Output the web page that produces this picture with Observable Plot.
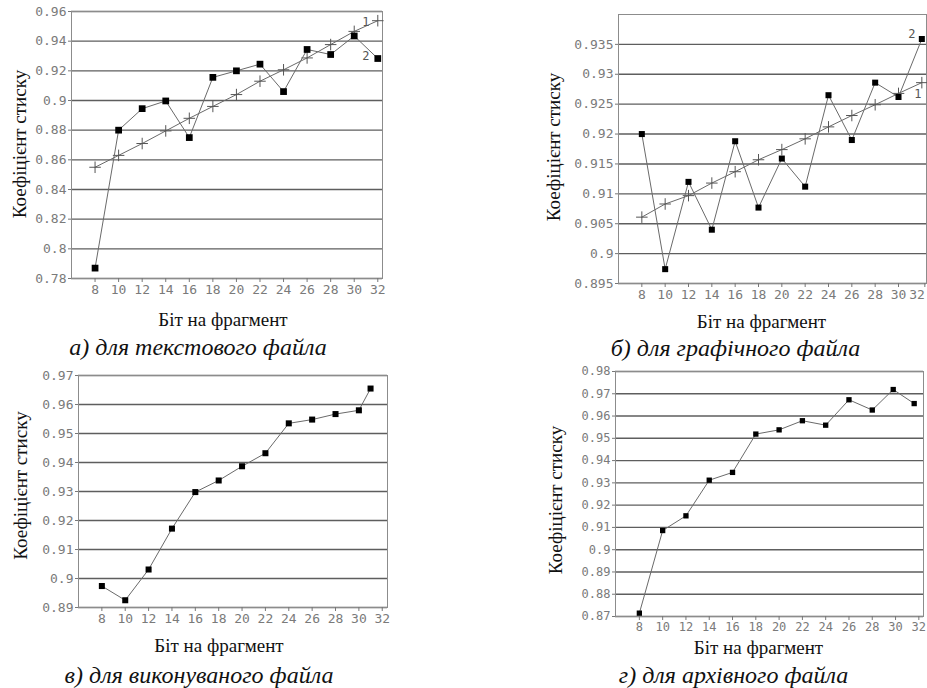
<!DOCTYPE html>
<html>
<head>
<meta charset="utf-8">
<script src="https://cdn.jsdelivr.net/npm/d3@7"></script>
<script src="https://cdn.jsdelivr.net/npm/@observablehq/plot@0.6"></script>
<style>
  body { margin: 0; background: #fff; }
  #root { position: relative; width: 927px; height: 688px; overflow: hidden; background: #fff; }
  #root svg { position: absolute; overflow: visible; background: transparent; }
</style>
</head>
<body>
<div id="root"></div>
<script>
// ---------- data ----------
const bits = [8, 10, 12, 14, 16, 18, 20, 22, 24, 26, 28, 30, 32];
const bitsC = [8, 10, 12, 14, 16, 18, 20, 22, 24, 26, 28, 30, 31];
const bitsD = [8, 10, 12, 14, 16, 18, 20, 22, 24, 26, 28, 29.8, 31.6];

// а) текстовий файл: 1 – апроксимація, 2 – дані
const textApprox = [0.855, 0.863, 0.871, 0.8795, 0.888, 0.896, 0.904, 0.913, 0.9207, 0.9287, 0.9377, 0.9466, 0.9538];
const textData   = [0.787, 0.880, 0.8945, 0.8997, 0.875, 0.9156, 0.920, 0.9245, 0.906, 0.9344, 0.931, 0.9435, 0.9283];
// б) графічний файл
const imgApprox = [0.9061, 0.9083, 0.9097, 0.9118, 0.9137, 0.9157, 0.9174, 0.9192, 0.9212, 0.9231, 0.9249, 0.9268, 0.9286];
const imgData   = [0.920, 0.8974, 0.912, 0.904, 0.9188, 0.9077, 0.9159, 0.9112, 0.9265, 0.919, 0.9286, 0.9262, 0.9359];
// в) виконуваний файл
const exeData = [0.8974, 0.8925, 0.9031, 0.9172, 0.9298, 0.9338, 0.9387, 0.9432, 0.9535, 0.9548, 0.9567, 0.958, 0.9655];
// г) архівний файл
const arcData = [0.8715, 0.9086, 0.9152, 0.9312, 0.9347, 0.9519, 0.9538, 0.9579, 0.9559, 0.9673, 0.9627, 0.9719, 0.9656];

// tick labels
const xTicks = [8, 10, 12, 14, 16, 18, 20, 22, 24, 26, 28, 30, 32];
const yTicksA = [0.78, 0.8, 0.82, 0.84, 0.86, 0.88, 0.9, 0.92, 0.94, 0.96];
const yTicksB = [0.895, 0.9, 0.905, 0.91, 0.915, 0.92, 0.925, 0.93, 0.935];
const yTicksC = [0.89, 0.9, 0.91, 0.92, 0.93, 0.94, 0.95, 0.96, 0.97];
const yTicksD = [0.87, 0.88, 0.89, 0.9, 0.91, 0.92, 0.93, 0.94, 0.95, 0.96, 0.97, 0.98];

const xTitle = "Біт на фрагмент";
const yTitle = "Коефіцієнт стиску";
const captions = ["а) для текстового файла", "б) для графічного файла", "в) для виконуваного файла", "г) для архівного файла"];

// ---------- drawing ----------
const MONO = "'DejaVu Sans Mono', 'Liberation Mono', monospace";
const SERIF = "'Liberation Serif', 'Times New Roman', 'DejaVu Serif', serif";
const fmt = d => String(+d.toFixed(3));
const zip = (xs, ys) => xs.map((x, i) => ({x, y: ys[i]}));

function panel(o) {
  const axisStyle = {tickSize: 4, tickPadding: 2, label: null,
    fontFamily: MONO, fontSize: o.tickFont, fill: "#7a7a7a", stroke: "#777"};
  const marks = [
    Plot.gridY(o.yTicks, {stroke: "#5e5e5e", strokeOpacity: 1, strokeWidth: 1.4}),
    Plot.frame({stroke: "#8c8c8c"}),
    Plot.axisY(o.yTicks, {...axisStyle, tickSize: 3, tickFormat: fmt})
  ];
  if (o.lastShift) {
    marks.push(Plot.axisX(xTicks.slice(0, -1), axisStyle));
    marks.push(Plot.axisX(xTicks.slice(-1), {...axisStyle, textAnchor: "end", dx: 3}));
  } else {
    marks.push(Plot.axisX(xTicks, axisStyle));
  }
  if (o.approx) {
    const a = zip(o.xs, o.approx);
    marks.push(Plot.line(a, {x: "x", y: "y", stroke: "#6a6a6a", strokeWidth: 1}));
    marks.push(Plot.dot(a, {x: "x", y: "y", symbol: "plus", r: 3.8, stroke: "#555", strokeWidth: 1}));
  }
  const d = zip(o.xs, o.data);
  marks.push(Plot.line(d, {x: "x", y: "y", stroke: "#6a6a6a", strokeWidth: 1}));
  marks.push(Plot.dot(d, {x: "x", y: "y", symbol: "square", r: o.sq, fill: "#000", stroke: "none"}));
  if (o.approx) {
    const n = o.xs.length - 1;
    marks.push(Plot.text([{x: o.xs[n], y: o.approx[n]}], {x: "x", y: "y", text: () => "1",
      dx: o.l1[0], dy: o.l1[1], fontFamily: MONO, fontSize: 12, fill: "#555"}));
    marks.push(Plot.text([{x: o.xs[n], y: o.data[n]}], {x: "x", y: "y", text: () => "2",
      dx: o.l2[0], dy: o.l2[1], fontFamily: MONO, fontSize: 12, fill: "#555"}));
  }
  marks.push(Plot.text([xTitle], {text: d => d, frameAnchor: "bottom", dx: o.xt[0], dy: o.xt[1],
    fontFamily: SERIF, fontSize: 19, fill: "#111", textAnchor: "middle", lineAnchor: "middle"}));
  marks.push(Plot.text([o.caption], {text: d => d, frameAnchor: "bottom", dx: o.cap[0], dy: o.cap[1],
    fontFamily: SERIF, fontStyle: "italic", fontSize: 24, fill: "#111", textAnchor: "middle", lineAnchor: "middle"}));
  marks.push(Plot.text([yTitle], {text: d => d, frameAnchor: "left", rotate: -90, dx: o.yt[0], dy: o.yt[1],
    fontFamily: SERIF, fontSize: 19, fill: "#111", textAnchor: "middle", lineAnchor: "middle"}));

  const svg = Plot.plot({
    width: o.width, height: o.height,
    marginLeft: o.m[0], marginRight: o.m[1], marginTop: o.m[2], marginBottom: o.m[3],
    x: {domain: o.xDomain, label: null},
    y: {domain: o.yDomain, label: null},
    style: {overflow: "visible", background: "transparent"},
    marks
  });
  svg.style.left = o.left + "px";
  svg.style.top = o.top + "px";
  document.getElementById("root").appendChild(svg);
}

panel({left: 0, top: 0, width: 460, height: 360, m: [71, 78, 11, 82],
  xDomain: [6, 32.4], yDomain: [0.78, 0.96], yTicks: yTicksA, xs: bits,
  approx: textApprox, data: textData, sq: 3.8, tickFont: 13,
  l1: [-12, 1], l2: [-12, -2], xt: [-4, 41], cap: [-29, 69], yt: [-52, -1], caption: captions[0]});

panel({left: 460, top: 0, width: 467, height: 360, m: [158, 1, 14, 77],
  xDomain: [6, 32.4], yDomain: [0.895, 0.94], yTicks: yTicksB, xs: bits,
  approx: imgApprox, data: imgData, sq: 3.4, tickFont: 13, lastShift: true,
  l1: [-4, 12], l2: [-10, -5], xt: [-11, 38], cap: [-37, 65], yt: [-65, -2], caption: captions[1]});

panel({left: 0, top: 360, width: 460, height: 328, m: [78, 73, 15, 81],
  xDomain: [6, 32.45], yDomain: [0.89, 0.97], yTicks: yTicksC, xs: bitsC,
  data: exeData, sq: 3.4, tickFont: 13,
  xt: [-14, 38], cap: [-34, 68], yt: [-58, -6], caption: captions[2]});

panel({left: 460, top: 360, width: 467, height: 328, m: [155, 4, 11, 72],
  xDomain: [5.95, 32.4], yDomain: [0.87, 0.98], yTicks: yTicksD, xs: bitsD,
  data: arcData, sq: 3.0, tickFont: 12,
  xt: [-11, 31], cap: [-36, 59], yt: [-60, 6], caption: captions[3]});
</script>
</body>
</html>
